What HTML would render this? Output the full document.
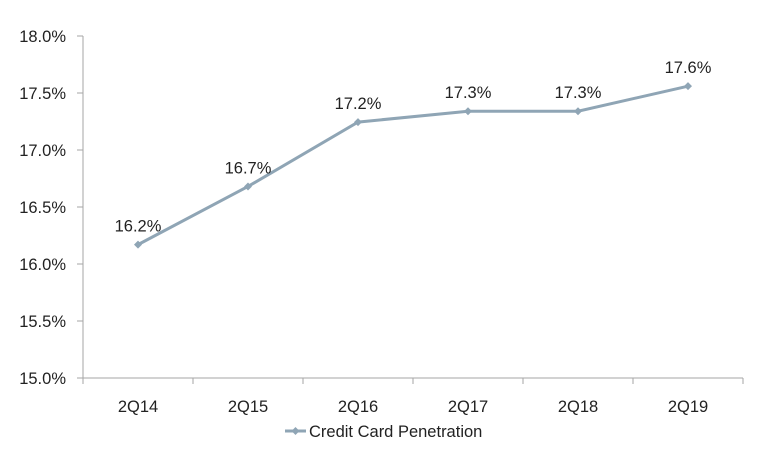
<!DOCTYPE html>
<html><head><meta charset="utf-8"><style>
body{margin:0;background:#fff;}
svg text{font-family:"Liberation Sans",sans-serif;fill:#222;}
</style></head><body>
<svg id="chart" width="761" height="450" xmlns="http://www.w3.org/2000/svg"></svg>
<script>
const categories=["2Q14","2Q15","2Q16","2Q17","2Q18","2Q19"];
const seriesValues=[16.17,16.68,17.245,17.34,17.34,17.56];
const yTicks=[15.0,15.5,16.0,16.5,17.0,17.5,18.0];
const seriesName="Credit Card Penetration";
const svg=document.getElementById('chart');
const NS="http://www.w3.org/2000/svg";
const L=83,R=743,T=36,B=378,yMin=15,yMax=18;
const bw=(R-L)/categories.length;
const x=i=>L+bw*(i+0.5);
const y=v=>B-(v-yMin)/(yMax-yMin)*(B-T);
function mk(tag,attrs,parent){const e=document.createElementNS(NS,tag);for(const k in attrs)e.setAttribute(k,attrs[k]);(parent||svg).appendChild(e);return e;}
const axisColor="#a6a6a6";
const ya=mk('line',{x1:L,y1:T,x2:L,y2:B,stroke:axisColor});


const xa=mk('line',{x1:L,y1:B,x2:R,y2:B,stroke:axisColor});


yTicks.forEach(v=>{
  mk('line',{x1:L-6,y1:y(v),x2:L,y2:y(v),stroke:axisColor});
  const t=mk('text',{x:L-17,y:y(v)+6,'text-anchor':'end','font-size':16.5});
  t.textContent=v.toFixed(1)+'%';
  
  
});
for(let i=0;i<=categories.length;i++){mk('line',{x1:L+bw*i,y1:B,x2:L+bw*i,y2:B+6,stroke:axisColor});}
categories.forEach((c,i)=>{
  const t=mk('text',{x:x(i),y:B+34,'text-anchor':'middle','font-size':16.5});
  t.textContent=c;
  
  
});
const col="#8fa5b5";
const pl=mk('polyline',{points:seriesValues.map((v,i)=>x(i)+','+y(v)).join(' '),fill:'none',stroke:col,'stroke-width':3});


seriesValues.forEach((v,i)=>{
  const m=mk('polygon',{points:`${x(i)},${y(v)-4} ${x(i)+4},${y(v)} ${x(i)},${y(v)+4} ${x(i)-4},${y(v)}`,fill:col});
  
  
  const t=mk('text',{x:x(i),y:y(v)-13,'text-anchor':'middle','font-size':16.5});
  t.textContent=v.toFixed(1)+'%';
  
  
});
const lg=mk('g',{});


mk('line',{x1:285,y1:431,x2:306,y2:431,stroke:col,'stroke-width':3},lg);
mk('polygon',{points:'295.5,427 299.5,431 295.5,435 291.5,431',fill:col},lg);
const lt=mk('text',{x:309,y:437,'font-size':16.5},lg);
lt.textContent=seriesName;
</script>
</body></html>
